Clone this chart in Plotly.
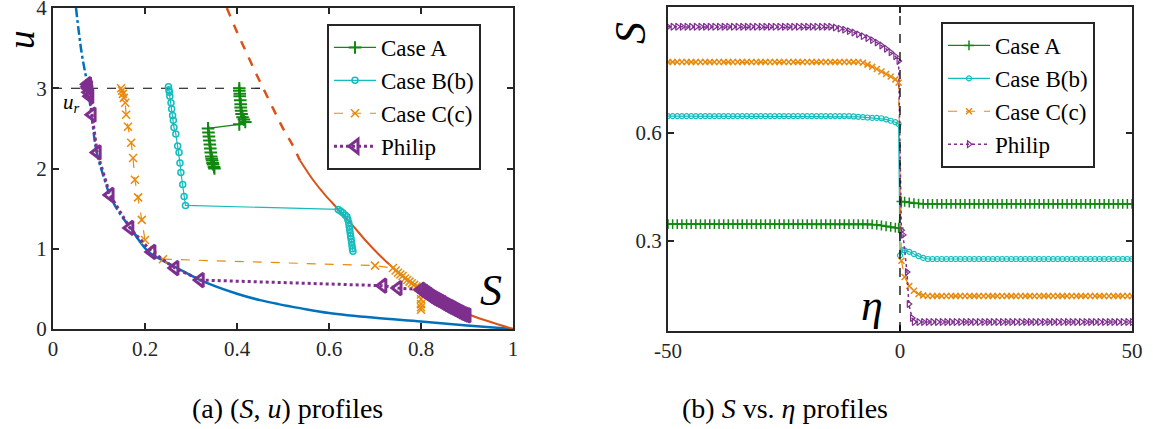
import plotly.graph_objects as go

# ---------------- Left panel (S, u) ----------------
# theoretical curves
S_blue = [0.05, 0.062, 0.076, 0.085, 0.095, 0.11, 0.125, 0.145, 0.17, 0.19, 0.21, 0.24, 0.27, 0.32, 0.4, 0.45, 0.49, 0.537, 0.6, 0.7, 0.8, 0.9, 1.0]
u_blue = [4.0, 3.45, 3.0, 2.6, 2.2, 1.9, 1.65, 1.44, 1.25, 1.08, 0.95, 0.85, 0.76, 0.61, 0.44, 0.36, 0.31, 0.26, 0.2, 0.14, 0.095, 0.045, 0.0]
S_red = [0.378, 0.40, 0.42, 0.44, 0.457, 0.48, 0.5, 0.52, 0.537, 0.565, 0.59, 0.617, 0.65, 0.68, 0.71, 0.74, 0.77, 0.804, 0.85, 0.9, 0.95, 1.0]
u_red = [4.0, 3.7, 3.45, 3.2, 3.0, 2.73, 2.5, 2.3, 2.1, 1.86, 1.68, 1.51, 1.3, 1.1, 0.92, 0.76, 0.62, 0.49, 0.34, 0.19, 0.09, 0.0]
u_r = 3.0
S_ur_end = 0.457

S_A = [0.405, 0.405, 0.406, 0.406, 0.407, 0.408, 0.408, 0.409, 0.41, 0.412, 0.415, 0.418, 0.405,
       0.337, 0.338, 0.339, 0.34, 0.341, 0.342, 0.343, 0.344, 0.345, 0.346, 0.347, 0.348, 0.35, 0.351]
u_A = [3.0, 2.97, 2.93, 2.9, 2.85, 2.8, 2.76, 2.72, 2.68, 2.64, 2.61, 2.58, 2.55,
       2.5, 2.45, 2.4, 2.35, 2.3, 2.25, 2.2, 2.15, 2.12, 2.1, 2.07, 2.05, 2.02, 2.0]

S_B = [0.251, 0.252, 0.253, 0.254, 0.2565, 0.258, 0.26, 0.2616, 0.263, 0.267, 0.271, 0.274, 0.276, 0.278, 0.282, 0.285, 0.288,
       0.62, 0.625, 0.63, 0.635, 0.639, 0.641, 0.643, 0.644, 0.645, 0.646, 0.647, 0.648, 0.649, 0.65, 0.651, 0.652]
u_B = [3.02, 2.98, 2.95, 2.9, 2.82, 2.74, 2.66, 2.6, 2.51, 2.43, 2.28, 2.2, 2.07, 1.95, 1.8, 1.65, 1.54,
       1.49, 1.47, 1.45, 1.42, 1.4, 1.36, 1.32, 1.28, 1.24, 1.2, 1.16, 1.12, 1.08, 1.04, 1.0, 0.97]

S_C = [0.148, 0.15, 0.152, 0.154, 0.157, 0.159, 0.163, 0.17, 0.174, 0.178, 0.185, 0.193, 0.2, 0.239,
       0.70, 0.739, 0.745, 0.75, 0.755, 0.76, 0.765, 0.77, 0.775, 0.78, 0.785, 0.79, 0.795, 0.8, 0.8, 0.8, 0.8, 0.8, 0.8]
u_C = [3.0, 2.97, 2.93, 2.88, 2.82, 2.67, 2.52, 2.32, 2.13, 1.86, 1.64, 1.36, 1.11, 0.87,
       0.79, 0.76, 0.73, 0.7, 0.68, 0.66, 0.63, 0.61, 0.59, 0.57, 0.55, 0.53, 0.51, 0.49, 0.43, 0.37, 0.31, 0.27, 0.24]

S_P = [0.075, 0.076, 0.077, 0.078, 0.08, 0.085, 0.096, 0.124, 0.167, 0.215, 0.265, 0.32, 0.717, 0.75,
       0.80, 0.805, 0.81, 0.815, 0.82, 0.825, 0.83, 0.835, 0.84, 0.845, 0.85, 0.855, 0.86, 0.865, 0.87, 0.875,
       0.88, 0.885, 0.89, 0.895, 0.9]
u_P = [3.05, 3.02, 3.0, 2.95, 2.9, 2.67, 2.2, 1.67, 1.26, 0.96, 0.76, 0.61, 0.54, 0.51,
       0.49, 0.47, 0.45, 0.43, 0.41, 0.39, 0.375, 0.36, 0.345, 0.33, 0.31, 0.295, 0.28, 0.265, 0.25, 0.235,
       0.22, 0.205, 0.19, 0.18, 0.17]

# ---------------- Right panel (eta, S) ----------------
eta_A = list(range(-50, 0)) + [-0.3, 0.3] + list(range(1, 51))
S_eta_A = [0.347] * 44 + [0.346, 0.345, 0.343, 0.341, 0.339, 0.337] + [0.336] + \
          [0.41, 0.409, 0.407, 0.405, 0.404] + [0.403] * 46

eta_B = list(range(-50, 0)) + [-0.3, 0.0, 0.6] + list(range(1, 51))
S_eta_B = [0.647] * 40 + [0.646, 0.645, 0.644, 0.643, 0.642, 0.642, 0.641, 0.638, 0.634, 0.63] + [0.625] + \
          [0.26, 0.275, 0.274, 0.27, 0.264, 0.258, 0.253] + [0.25] * 45

eta_C = list(range(-50, 0)) + [-0.3, 0.3] + list(range(1, 51))
S_eta_C = [0.797] * 42 + [0.795, 0.79, 0.784, 0.778, 0.771, 0.764, 0.757, 0.749] + [0.74] + \
          [0.245, 0.2, 0.175, 0.162, 0.153, 0.149] + [0.147] * 45

eta_P = list(range(-50, 0)) + [-0.3, 0.3, 0.65, 1.5, 1.9, 2.6] + list(range(3, 51))
S_eta_P = [0.895] * 36 + [0.893, 0.89, 0.887, 0.883, 0.879, 0.874, 0.869, 0.864, 0.858, 0.851, 0.843, 0.834, 0.824, 0.813] + \
          [0.80] + [0.33, 0.317, 0.214, 0.125, 0.086] + [0.075] * 48

names = ["Case A", "Case B(b)", "Case C(c)", "Philip"]

GREEN = "#118811"
CYAN = "#14BDBD"
ORANGE = "#E88A0C"
PURPLE = "#7E2F8E"
BLUE = "#0072BD"
RED = "#D95319"
AX = "#262626"
FONT = "Liberation Serif, Times New Roman, serif"

fig = go.Figure()

# left: curves
split_b = S_blue.index(0.19)
fig.add_trace(go.Scatter(x=S_blue[:split_b + 1], y=u_blue[:split_b + 1], mode="lines",
                         line=dict(color=BLUE, width=2.5, dash="dashdot", shape="spline"),
                         showlegend=False, xaxis="x", yaxis="y"))
fig.add_trace(go.Scatter(x=S_blue[split_b - 1:], y=u_blue[split_b - 1:], mode="lines",
                         line=dict(color=BLUE, width=2.5, shape="spline"),
                         showlegend=False, xaxis="x", yaxis="y"))
split_r = S_red.index(0.537)
fig.add_trace(go.Scatter(x=S_red[:split_r + 1], y=u_red[:split_r + 1], mode="lines",
                         line=dict(color=RED, width=2.5, dash="dash", shape="spline"),
                         showlegend=False, xaxis="x", yaxis="y"))
fig.add_trace(go.Scatter(x=S_red[split_r:], y=u_red[split_r:], mode="lines",
                         line=dict(color=RED, width=2, shape="spline"),
                         showlegend=False, xaxis="x", yaxis="y"))
fig.add_trace(go.Scatter(x=[0, S_ur_end], y=[u_r, u_r], mode="lines",
                         line=dict(color="black", width=1.2, dash="dash"),
                         showlegend=False, xaxis="x", yaxis="y"))

# left: cases
fig.add_trace(go.Scatter(x=S_A, y=u_A, mode="lines+markers", name=names[0],
                         line=dict(color=GREEN, width=1.2),
                         marker=dict(symbol="cross-thin", size=9, line=dict(color=GREEN, width=2)),
                         legend="legend", xaxis="x", yaxis="y"))
fig.add_trace(go.Scatter(x=S_B, y=u_B, mode="lines+markers", name=names[1],
                         line=dict(color=CYAN, width=1.2),
                         marker=dict(symbol="circle-open", size=6, color=CYAN, line=dict(color=CYAN, width=1.5)),
                         legend="legend", xaxis="x", yaxis="y"))
fig.add_trace(go.Scatter(x=S_C, y=u_C, mode="lines+markers", name=names[2],
                         line=dict(color=ORANGE, width=1.2, dash="dash"),
                         marker=dict(symbol="x-thin", size=8, line=dict(color=ORANGE, width=1.5)),
                         legend="legend", xaxis="x", yaxis="y"))
fig.add_trace(go.Scatter(x=S_P, y=u_P, mode="lines+markers", name=names[3],
                         line=dict(color=PURPLE, width=3, dash="dot"),
                         marker=dict(symbol="triangle-left-open", size=12, color=PURPLE,
                                     line=dict(color=PURPLE, width=3)),
                         legend="legend", xaxis="x", yaxis="y"))

# right: profiles
fig.add_trace(go.Scatter(x=eta_A, y=S_eta_A, mode="lines+markers", name=names[0],
                         line=dict(color=GREEN, width=1.2),
                         marker=dict(symbol="cross-thin", size=7, line=dict(color=GREEN, width=1.5)),
                         legend="legend2", xaxis="x2", yaxis="y2"))
fig.add_trace(go.Scatter(x=eta_B, y=S_eta_B, mode="lines+markers", name=names[1],
                         line=dict(color=CYAN, width=1.2),
                         marker=dict(symbol="circle-open", size=5, color=CYAN, line=dict(color=CYAN, width=1.2)),
                         legend="legend2", xaxis="x2", yaxis="y2"))
fig.add_trace(go.Scatter(x=eta_C, y=S_eta_C, mode="lines+markers", name=names[2],
                         line=dict(color=ORANGE, width=1.2, dash="dash"),
                         marker=dict(symbol="x-thin", size=6, line=dict(color=ORANGE, width=1.5)),
                         legend="legend2", xaxis="x2", yaxis="y2"))
fig.add_trace(go.Scatter(x=eta_P, y=S_eta_P, mode="lines+markers", name=names[3],
                         line=dict(color=PURPLE, width=1.5, dash="dot"),
                         marker=dict(symbol="triangle-right-open", size=6, color=PURPLE,
                                     line=dict(color=PURPLE, width=1.2)),
                         legend="legend2", xaxis="x2", yaxis="y2"))

W, H = 1153, 429


def px(x):
    return x / W


def py(y):
    return 1 - y / H


axis_common = dict(showline=True, linecolor=AX, linewidth=2, mirror="ticks", ticks="inside",
                   ticklen=6, tickwidth=1.5, tickcolor=AX, showgrid=False, zeroline=False,
                   automargin=False, ticklabeloverflow="allow",
                   tickfont=dict(family=FONT, size=21, color=AX))

fig.update_layout(
    width=W, height=H,
    margin=dict(l=0, r=0, t=0, b=0, autoexpand=False),
    paper_bgcolor="white", plot_bgcolor="white",
    xaxis=dict(domain=[px(53), px(513)], range=[0, 1], tickvals=[0, 0.2, 0.4, 0.6, 0.8, 1],
               ticktext=["0", "0.2", "0.4", "0.6", "0.8", "1"], anchor="y", **axis_common),
    yaxis=dict(domain=[py(329), py(8)], range=[0, 4], tickvals=[0, 1, 2, 3, 4],
               anchor="x", **axis_common),
    xaxis2=dict(domain=[px(668), px(1132)], range=[-50, 50], tickvals=[-50, 0, 50],
                ticktext=["-50", "0", "50"], anchor="y2", **axis_common),
    yaxis2=dict(domain=[py(331), py(7)], range=[0.05, 0.95], tickvals=[0.3, 0.6],
                anchor="x2", **axis_common),
    legend=dict(x=px(327), y=py(24), xanchor="left", yanchor="top",
                font=dict(family=FONT, size=23, color="black"),
                bordercolor=AX, borderwidth=2, bgcolor="white", itemwidth=42, tracegroupgap=0),
    legend2=dict(x=px(941), y=py(22), xanchor="left", yanchor="top",
                 font=dict(family=FONT, size=23, color="black"),
                 bordercolor=AX, borderwidth=2, bgcolor="white", itemwidth=42, tracegroupgap=0),
    showlegend=True,
)

# vertical dashed line at eta = 0
fig.add_shape(type="line", xref="x2", yref="y2 domain", x0=0, x1=0, y0=0, y1=1,
              line=dict(color="black", width=1.3, dash="dash"))

big = dict(family=FONT, size=44, color="black")
ann = [
    dict(text="<i>u</i>", x=px(22), y=py(40), font=dict(family=FONT, size=37, color="black"), textangle=-90),
    dict(text="<i>S</i>", x=px(491), y=py(290), font=big),
    dict(text="<i>S</i>", x=px(631), y=py(33), font=big, textangle=-90),
    dict(text="<i>η</i>", x=px(872), y=py(305), font=big),
    dict(text="(a) (<i>S</i>, <i>u</i>) profiles", x=px(287), y=py(408),
         font=dict(family=FONT, size=28, color="black")),
    dict(text="(b) <i>S</i> vs. <i>η</i> profiles", x=px(785), y=py(408),
         font=dict(family=FONT, size=28, color="black")),
]
for a in ann:
    a.update(xref="paper", yref="paper", showarrow=False, xanchor="center", yanchor="middle")
ann.append(dict(text="<i>u</i><sub><i>r</i></sub>", x=0.04, y=2.82, xref="x", yref="y", showarrow=False,
                xanchor="center", yanchor="middle", font=dict(family=FONT, size=21, color="black")))
fig.update_layout(annotations=ann)

# remove the browser's default 8px body margin so the figure sits at the window origin
fig.write_html("out.html", config={"displayModeBar": False},
               post_script="document.body.style.margin='0px';document.body.style.overflow='hidden';")
